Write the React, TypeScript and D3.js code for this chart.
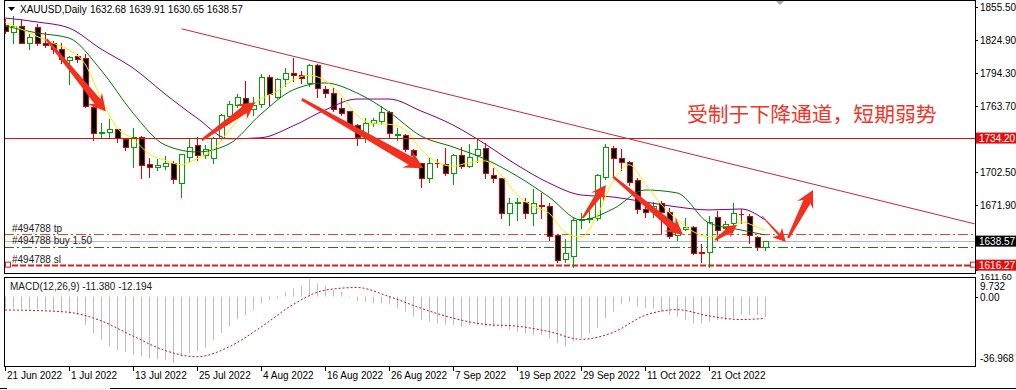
import React from "react";
import * as d3 from "d3";

// XAUUSD daily bars, index 0 = 21 Jun 2022 ... 95 = 1 Nov 2022
const opens = [
  1839.1, 1832.9, 1838.2, 1822.7, 1837.5, 1822.7, 1822.0, 1816.5, 1806.6, 1810.6,
  1808.2, 1763.3, 1738.6, 1739.5, 1742.6, 1733.1, 1725.6, 1735.5, 1710.1, 1707.1,
  1708.3, 1710.8, 1692.8, 1716.9, 1727.8, 1718.5, 1715.4, 1734.0, 1754.7, 1764.9,
  1771.1, 1760.9, 1765.8, 1790.6, 1772.6, 1788.7, 1794.3, 1792.7, 1785.0, 1802.0,
  1779.4, 1775.7, 1761.8, 1759.6, 1746.3, 1736.1, 1747.9, 1750.3, 1758.7, 1737.0,
  1737.0, 1723.1, 1710.8, 1696.9, 1711.3, 1710.1, 1701.5, 1718.5, 1708.3, 1718.2,
  1724.7, 1699.9, 1696.9, 1664.4, 1673.6, 1675.2, 1664.4, 1672.1, 1671.2, 1644.3,
  1621.7, 1624.8, 1658.2, 1658.7, 1659.8, 1698.4, 1724.7, 1715.4, 1711.7, 1695.3,
  1668.4, 1666.5, 1674.2, 1665.9, 1644.3, 1649.6, 1651.4, 1628.4, 1628.8, 1660.7,
  1651.0, 1655.5, 1663.9, 1661.9, 1642.1, 1632.68,
];
const highs = [
  1845.6, 1848.4, 1845.3, 1831.4, 1840.7, 1833.8, 1825.0, 1823.6, 1811.3, 1813.4,
  1812.8, 1764.9, 1749.4, 1752.5, 1744.7, 1735.5, 1744.7, 1737.0, 1716.9, 1715.4,
  1718.5, 1713.8, 1720.1, 1735.5, 1736.1, 1728.7, 1736.1, 1757.4, 1769.5, 1775.7,
  1788.1, 1773.2, 1794.3, 1793.6, 1790.8, 1799.8, 1809.1, 1797.3, 1803.6, 1803.6,
  1783.4, 1782.5, 1772.0, 1760.2, 1747.9, 1754.0, 1754.0, 1764.9, 1760.2, 1744.7,
  1739.3, 1725.0, 1712.3, 1716.9, 1715.4, 1726.2, 1720.1, 1726.8, 1729.3, 1734.9,
  1730.8, 1707.6, 1697.8, 1679.2, 1679.8, 1679.8, 1687.6, 1684.4, 1675.2, 1646.2,
  1641.2, 1661.9, 1665.9, 1667.5, 1701.5, 1729.3, 1727.8, 1724.7, 1713.8, 1698.4,
  1676.7, 1675.5, 1676.7, 1670.5, 1654.0, 1660.7, 1653.6, 1636.6, 1662.8, 1667.5,
  1658.0, 1675.2, 1669.3, 1664.7, 1644.3, 1639.91,
];
const lows = [
  1831.7, 1822.7, 1822.1, 1816.5, 1820.5, 1819.0, 1813.0, 1803.5, 1784.4, 1805.0,
  1763.3, 1732.4, 1735.5, 1734.0, 1730.8, 1723.1, 1707.6, 1697.2, 1698.4, 1704.6,
  1705.2, 1692.2, 1679.8, 1712.3, 1714.1, 1715.7, 1711.1, 1732.4, 1752.5, 1763.3,
  1760.9, 1755.6, 1763.3, 1764.9, 1771.4, 1782.5, 1787.4, 1785.0, 1782.5, 1772.6,
  1772.6, 1759.6, 1755.6, 1746.3, 1727.8, 1730.8, 1745.4, 1747.3, 1735.5, 1732.4,
  1722.5, 1713.0, 1688.5, 1693.7, 1707.1, 1699.9, 1691.6, 1706.4, 1707.1, 1712.3,
  1696.9, 1693.7, 1659.8, 1653.6, 1658.2, 1659.8, 1653.6, 1659.8, 1639.7, 1619.5,
  1619.5, 1614.9, 1650.5, 1656.6, 1658.2, 1695.9, 1699.9, 1704.6, 1690.7, 1665.0,
  1661.3, 1661.0, 1645.9, 1641.2, 1640.0, 1648.9, 1626.6, 1619.5, 1614.9, 1639.7,
  1646.0, 1648.9, 1655.7, 1636.6, 1630.4, 1630.65,
];
const closes = [
  1833.8, 1838.2, 1822.7, 1827.7, 1822.7, 1820.8, 1816.5, 1807.3, 1809.7, 1807.3,
  1764.2, 1738.6, 1739.5, 1742.6, 1734.0, 1725.6, 1734.9, 1709.2, 1707.1, 1709.2,
  1711.3, 1696.0, 1719.1, 1726.2, 1718.5, 1724.1, 1734.0, 1755.6, 1765.8, 1772.0,
  1763.3, 1764.9, 1790.6, 1775.1, 1788.7, 1794.3, 1792.4, 1789.6, 1802.0, 1780.4,
  1775.7, 1760.9, 1757.7, 1747.3, 1735.5, 1748.4, 1750.9, 1758.7, 1738.6, 1737.9,
  1723.7, 1718.5, 1696.9, 1711.3, 1710.8, 1701.5, 1718.5, 1708.3, 1716.9, 1723.8,
  1701.5, 1696.9, 1664.4, 1674.2, 1675.2, 1664.4, 1673.7, 1671.1, 1643.3, 1621.1,
  1627.9, 1658.2, 1659.0, 1659.8, 1699.9, 1725.6, 1715.4, 1711.7, 1693.7, 1668.1,
  1665.3, 1671.2, 1665.9, 1643.3, 1649.7, 1652.0, 1627.9, 1627.9, 1656.6, 1649.0,
  1654.6, 1664.4, 1663.3, 1644.3, 1632.9, 1638.57,
];

const dateTickIdx = [0, 8, 16, 24, 32, 40, 48, 56, 64, 72, 80, 88];
const dateTickLabels = [
  "21 Jun 2022", "1 Jul 2022", "13 Jul 2022", "25 Jul 2022", "4 Aug 2022", "16 Aug 2022",
  "26 Aug 2022", "7 Sep 2022", "19 Sep 2022", "29 Sep 2022", "11 Oct 2022", "21 Oct 2022",
];
const priceTicks = [1855.5, 1824.9, 1794.3, 1763.7, 1733.1, 1702.5, 1671.9, 1641.3, 1611.6];
const priceMin = 1611.6;
const priceMax = 1855.5;

// moving averages
const fastMaIdx = [
  0, 2, 4, 6, 8, 10, 12, 14, 16, 18, 20, 22, 24, 26, 28, 30, 32, 34, 36, 38, 40, 42, 44, 46,
  48, 50, 52, 54, 56, 58, 60, 62, 64, 66, 68, 70, 72, 74, 76, 78, 80, 82, 84, 86, 88, 90, 92, 94, 95,
];
const fastMa = [
  1841.9, 1835.4, 1828.5, 1822.2, 1816.0, 1803.0, 1771.0, 1743.6, 1733.5, 1719.5, 1713.5, 1709.5,
  1715.0, 1723.5, 1741.0, 1759.0, 1770.5, 1777.5, 1788.0, 1792.5, 1787.5, 1774.0, 1755.5, 1747.5,
  1747.0, 1742.0, 1723.5, 1712.0, 1708.0, 1711.5, 1713.0, 1700.0, 1681.5, 1671.0, 1664.5, 1647.0,
  1642.3, 1662.0, 1694.0, 1709.5, 1692.0, 1673.0, 1658.5, 1647.5, 1642.7, 1645.0, 1656.5, 1651.5, 1648.5,
];
const slowMaIdx = [0, 4, 8, 12, 16, 20, 24, 28, 32, 36, 40, 44, 48, 52, 56, 60, 64, 68, 72, 76, 80, 84, 88, 92, 95];
const midMa = [
  1838.2, 1831.7, 1827.0, 1797.3, 1757.4, 1727.8, 1721.3, 1728.7, 1756.5, 1778.8, 1785.3, 1776.0,
  1758.4, 1736.1, 1725.9, 1714.7, 1699.0, 1679.5, 1658.2, 1668.4, 1686.0, 1683.3, 1655.4, 1648.9, 1644.3,
];
const slowMa = [
  1845.6, 1841.9, 1836.3, 1816.8, 1799.2, 1775.1, 1752.8, 1733.5, 1734.5, 1745.4, 1760.2, 1770.4,
  1770.4, 1759.3, 1746.3, 1728.7, 1709.2, 1692.5, 1681.4, 1679.5, 1674.9, 1670.3, 1667.5, 1668.4, 1658.2,
];

// MACD(12,26,9): main as histogram, signal as dotted line
const macdMain = [
  -6.6, -6.6, -6.8, -6.9, -7.0, -7.3, -7.8, -8.8, -9.5, -10.2,
  -15.8, -20.5, -24.2, -27.9, -29.7, -31.0, -32.5, -33.5, -34.4, -34.9,
  -35.3, -36.97, -33.5, -31.6, -30.3, -28.8, -24.2, -20.5, -16.8, -12.7,
  -10.3, -7.5, -3.8, -1.9, -1.0, 2.7, 4.5, 6.0, 9.7, 7.3,
  6.0, 3.6, 2.7, 0.3, -2.5, -2.9, -3.8, -3.8, -4.3, -6.6,
  -8.4, -11.2, -13.1, -14.0, -14.9, -15.8, -15.8, -16.8, -15.8, -15.8,
  -16.8, -16.8, -17.7, -18.6, -19.6, -20.5, -21.4, -21.4, -23.3, -26.0,
  -27.9, -25.1, -23.3, -20.5, -17.7, -12.1, -8.4, -4.3, -3.2, -5.6,
  -6.6, -6.6, -8.4, -10.3, -11.2, -13.1, -14.9, -14.9, -14.0, -13.1,
  -13.1, -12.1, -9.9, -10.3, -10.3, -11.38,
];
const macdSignal = [
  -7.5, -7.8, -8.8, -13.5, -22.0, -30.0, -33.5, -28.0, -17.0, -4.5, 3.5, 5.0,
  0.0, -6.5, -12.0, -15.5, -16.5, -19.5, -23.8, -20.0, -10.5, -7.3, -10.8, -12.8, -12.19,
];
const macdMin = -36.968;
const macdMax = 9.732;

// objects on the chart
const resistance = 1734.2;
const tpLevel = 1644.9;
const entryLevel = 1633.4;
const bidLevel = 1638.57;
const slLevel = 1616.27;
const trendLine = [
  { i: 22.1, p: 1835.5 },
  { i: 121.2, p: 1654.6 },
];
const arrowMarks = [
  { i0: 5.2, p0: 1825.8, i1: 12.6, p1: 1758.7 },
  { i0: 24.6, p0: 1732.4, i1: 31.3, p1: 1767.5 },
  { i0: 37.1, p0: 1770.2, i1: 52.3, p1: 1706.2 },
  { i0: 72.2, p0: 1660.0, i1: 75.1, p1: 1690.7 },
  { i0: 76.0, p0: 1698.4, i1: 84.75, p1: 1644.3 },
  { i0: 88.75, p0: 1639.7, i1: 91.5, p1: 1653.6 },
  { i0: 94.6, p0: 1661.9, i1: 97.6, p1: 1637.8 },
  { i0: 97.9, p0: 1641.5, i1: 101.0, p1: 1686.0 },
];

const header = "XAUUSD,Daily";
const headerOhlc = "1632.68 1639.91 1630.65 1638.57";
const note = "受制于下降通道，短期弱势";
const macdLabel = "MACD(12,26,9) -11.380 -12.194";

const W = 1016;
const H = 390;
const PL = 4;
const PR = 975;
const PT = 1;
const PB = 273;
const MT = 277;
const MB = 366;
const font = "'Liberation Sans', Arial, sans-serif";

function arrowPath(x1: number, y1: number, x2: number, y2: number, s: number, thin = false) {
  const L = Math.hypot(x2 - x1, y2 - y1);
  const ux = (x2 - x1) / L;
  const uy = (y2 - y1) / L;
  const nx = -uy;
  const ny = ux;
  const hl = 17 * s;
  const hw = 9 * s;
  const w1 = (thin ? 1.6 : 3.9) * s;
  const w0 = (thin ? 0.6 : 1.2) * s;
  const bx = x2 - ux * hl;
  const by = y2 - uy * hl;
  const kx = x2 - ux * hl * 0.78;
  const ky = y2 - uy * hl * 0.78;
  const pts = [
    [x1 + nx * w0, y1 + ny * w0],
    [kx + nx * w1, ky + ny * w1],
    [bx + nx * hw, by + ny * hw],
    [x2, y2],
    [bx - nx * hw, by - ny * hw],
    [kx - nx * w1, ky - ny * w1],
    [x1 - nx * w0, y1 - ny * w0],
  ];
  return "M" + pts.map((p) => p[0].toFixed(1) + "," + p[1].toFixed(1)).join("L") + "Z";
}

export default function App() {
  const x = d3.scaleLinear().domain([0, 95]).range([5, 765]);
  const y = d3.scaleLinear().domain([priceMin, priceMax]).range([270.2, 7.3]);
  const my = d3.scaleLinear().domain([macdMin, macdMax]).range([363, 279]);

  const priceLine = d3
    .line<[number, number]>()
    .x((d) => x(d[0]))
    .y((d) => y(d[1]))
    .curve(d3.curveMonotoneX);
  const macdLine = d3
    .line<[number, number]>()
    .x((d) => x(d[0]))
    .y((d) => my(d[1]))
    .curve(d3.curveMonotoneX);

  const fastPts = fastMaIdx.map((i, k) => [i, fastMa[k]] as [number, number]);
  const midPts = slowMaIdx.map((i, k) => [i, midMa[k]] as [number, number]);
  const slowPts = slowMaIdx.map((i, k) => [i, slowMa[k]] as [number, number]);
  const sigPts = slowMaIdx.map((i, k) => [i, macdSignal[k]] as [number, number]);

  const snap = (v: number) => Math.round(v) + 0.5;
  const arrowSize = [1, 1, 1.1, 0.85, 1, 0.75, 0.75, 1];

  // axis labels that sit under a coloured price box are hidden, like the terminal does
  const boxed = [resistance, bidLevel];
  const hidden = (p: number) => boxed.some((b) => Math.abs(y(p) - y(b)) < 9);

  const hLine = (p: number, color: string, dash?: string, width = 1) => (
    <line x1={PL} x2={PR} y1={snap(y(p))} y2={snap(y(p))} stroke={color} strokeWidth={width} strokeDasharray={dash} />
  );

  const priceBox = (p: number, fill: string, yc: number) => (
    <g>
      <rect x={976} y={yc - 5.5} width={40} height={11} fill={fill} />
      <text x={979} y={yc} dy="0.35em" fill="#fff" fontSize={10}>
        {p.toFixed(2)}
      </text>
    </g>
  );

  return (
    <svg
      width={W}
      height={H}
      viewBox={`0 0 ${W} ${H}`}
      style={{ position: "absolute", left: 0, top: 0, background: "#fff" }}
      fontFamily={font}
    >
      <defs>
        <clipPath id="main">
          <rect x={PL + 1} y={PT + 1} width={PR - PL - 1} height={PB - PT - 1} />
        </clipPath>
        <clipPath id="macd">
          <rect x={PL + 1} y={MT + 1} width={PR - PL - 1} height={MB - MT - 1} />
        </clipPath>
      </defs>
      <rect x={0} y={0} width={W} height={H} fill="#fff" />

      {/* main pane */}
      <g clipPath="url(#main)">
        {/* order / level lines */}
        {hLine(tpLevel, "#e2462a", "10,3,2,3")}
        {hLine(bidLevel, "#b8b8b8")}
        {hLine(entryLevel, "#1f7a1f", "10,3,2,3")}
        {hLine(slLevel, "#d8201c", "6,2", 2)}

        {/* candles */}
        <g shapeRendering="crispEdges">
          {closes.map((c, i) => {
            const o = opens[i];
            const up = c >= o;
            const cx = snap(x(i));
            const col = up ? "#00a000" : "#e00000";
            const top = snap(y(Math.max(o, c)));
            const bot = snap(y(Math.min(o, c)));
            return (
              <g key={i}>
                <line x1={cx} x2={cx} y1={snap(y(highs[i]))} y2={snap(y(lows[i]))} stroke={col} />
                {bot - top < 1 ? (
                  <line x1={cx - 2.5} x2={cx + 2.5} y1={top} y2={top} stroke={col} />
                ) : (
                  <rect x={cx - 2.5} y={top} width={5} height={bot - top} fill={up ? "#fff" : "#000"} stroke={col} />
                )}
              </g>
            );
          })}
        </g>

        {/* moving averages */}
        <path d={priceLine(slowPts) || ""} fill="none" stroke="#800080" strokeWidth={1} />
        <path d={priceLine(midPts) || ""} fill="none" stroke="#007800" strokeWidth={1} />
        <path d={priceLine(fastPts) || ""} fill="none" stroke="#f2f200" strokeWidth={1} />

        {/* resistance + trend line */}
        {hLine(resistance, "#e01010")}
        <line
          x1={x(trendLine[0].i)}
          y1={y(trendLine[0].p)}
          x2={x(trendLine[1].i)}
          y2={y(trendLine[1].p)}
          stroke="#c4283c"
          strokeWidth={1}
        />

        {/* arrows */}
        {arrowMarks.map((a, k) => (
          <path
            key={k}
            d={arrowPath(x(a.i0), y(a.p0), x(a.i1), y(a.p1), arrowSize[k], k === 6)}
            fill="#f2301f"
          />
        ))}

        {/* order marker squares */}
        <rect x={5.5} y={y(slLevel) - 3} width={5} height={5} fill="#fff" stroke="#d8201c" />
        <rect x={970.5} y={y(slLevel) - 3} width={5} height={5} fill="#fff" stroke="#d8201c" />

        <text x={12} y={232} fontSize={10} fill="#222">#494788 tp</text>
        <text x={12} y={244} fontSize={10} fill="#222">#494788 buy 1.50</text>
        <text x={12} y={263} fontSize={10} fill="#222">#494788 sl</text>

        <text x={687} y={122} fontSize={20.8} fill="#f0352a" fontFamily="'Noto Sans CJK SC', sans-serif">
          {note}
        </text>
      </g>

      {/* header */}
      <path d="M8,7 L15,7 L11.5,11 Z" fill="#000" />
      <text x={20} y={13} fontSize={10} fill="#000">{header}</text>
      <text x={90} y={13} fontSize={10} fill="#000">{headerOhlc}</text>
      <path d="M776,1 L784,1 L780,5 Z" fill="#a8a8a8" />

      {/* price axis */}
      {priceTicks.map((p) => (
        <g key={p}>
          <line x1={PR} x2={PR + 3} y1={snap(y(p))} y2={snap(y(p))} stroke="#000" />
          {p === priceMin ? (
            <text x={980} y={279.5} fontSize={9} fill="#000">{p.toFixed(2)}</text>
          ) : hidden(p) ? null : (
            <text x={980} y={y(p)} dy="0.35em" fontSize={10} fill="#000">{p.toFixed(2)}</text>
          )}
        </g>
      ))}
      {priceBox(resistance, "#e01010", y(resistance))}
      {priceBox(bidLevel, "#000", y(bidLevel))}
      {priceBox(slLevel, "#e01010", y(slLevel))}

      {/* pane frames */}
      <rect x={PL + 0.5} y={0.5} width={PR - PL} height={PB} fill="none" stroke="#000" />
      <rect x={PL + 0.5} y={MT + 0.5} width={PR - PL} height={MB - MT} fill="none" stroke="#000" />

      {/* MACD pane */}
      <g clipPath="url(#macd)">
        {macdMain.map((v, i) => (
          <line
            key={i}
            x1={snap(x(i))}
            x2={snap(x(i))}
            y1={my(0)}
            y2={my(v)}
            stroke="#bdbdbd"
            strokeWidth={1}
          />
        ))}
        <path d={macdLine(sigPts) || ""} fill="none" stroke="#c8102e" strokeWidth={1} strokeDasharray="2,2" />
      </g>
      <text x={10} y={290} fontSize={10} fill="#222">{macdLabel}</text>
      <text x={980} y={290} fontSize={10}>{macdMax.toFixed(3)}</text>
      <line x1={PR} x2={PR + 3} y1={snap(my(0))} y2={snap(my(0))} stroke="#000" />
      <text x={980} y={my(0) + 4} fontSize={10}>0.00</text>
      <text x={980} y={362} fontSize={10}>{macdMin.toFixed(3)}</text>

      {/* date axis */}
      {dateTickIdx.map((i, k) => (
        <g key={i}>
          <line x1={snap(x(i))} x2={snap(x(i))} y1={MB} y2={MB + 5} stroke="#000" />
          <text x={x(i) + 2} y={379} fontSize={10} fill="#000">
            {dateTickLabels[k]}
          </text>
        </g>
      ))}

      {/* bottom window edge */}
      <line x1={0} x2={W} y1={388.5} y2={388.5} stroke="#000" />
      <rect x={7} y={388} width={103} height={2} fill="#f0f0f0" />
    </svg>
  );
}
